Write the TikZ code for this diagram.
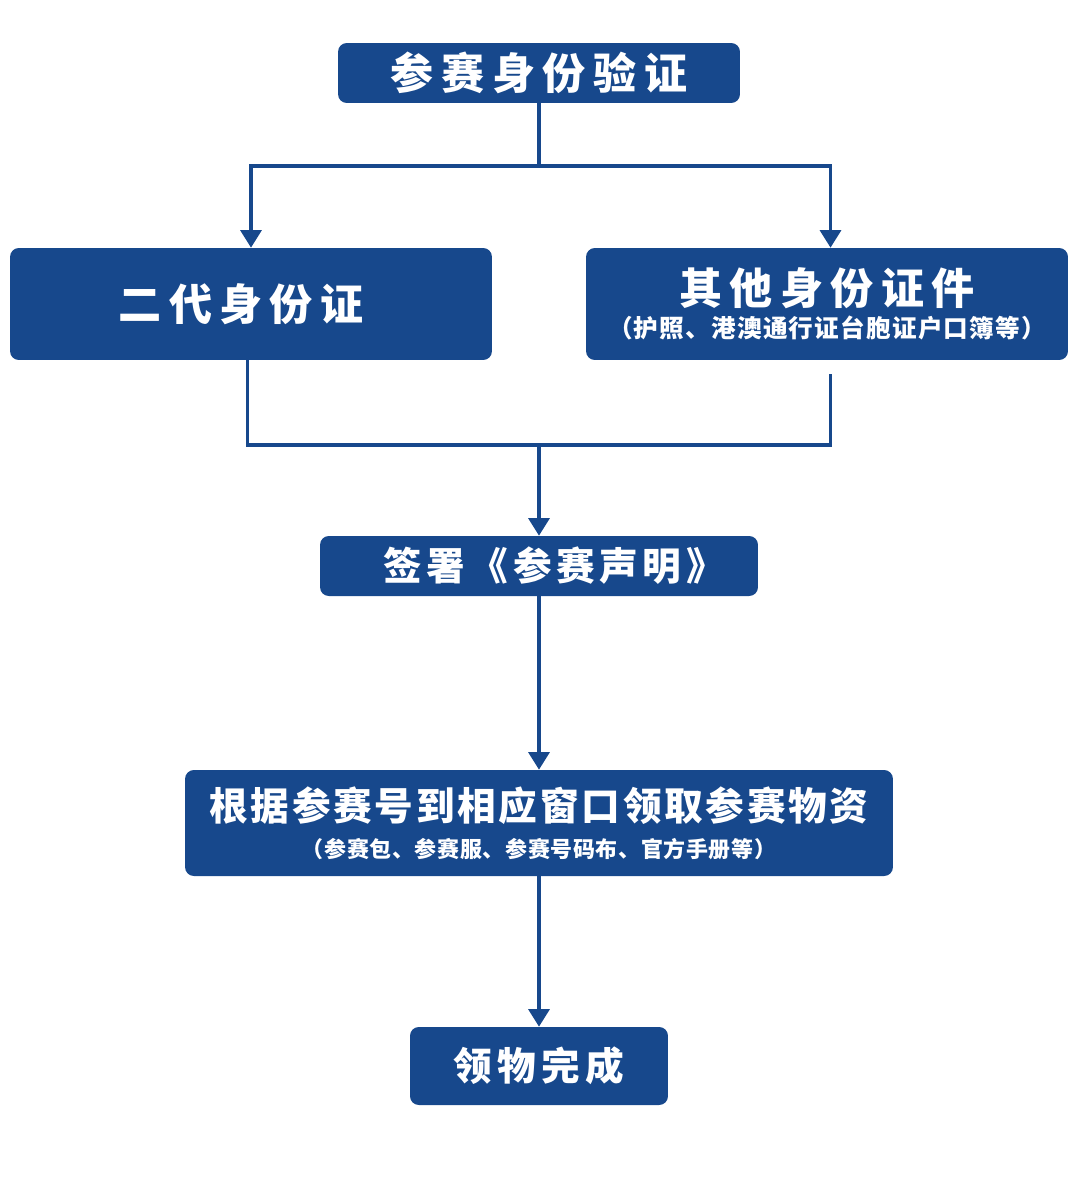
\documentclass[tikz,border=0pt]{standalone}
\usepackage{fontspec}
\newfontfamily\cjk{Noto Sans CJK SC}
\newcommand{\notefont}[2]{\cjk\bfseries\fontsize{#1}{14pt}\selectfont\addfontfeature{LetterSpace=#2}}
\usepackage{xcolor}
\definecolor{racenavy}{RGB}{23,72,140}
\usepackage{tikz}
\usetikzlibrary{arrows.meta, positioning}

\begin{document}
\begin{tikzpicture}[
  x=0.02cm, y=-0.02cm,
  flownode/.style={rectangle, rounded corners=5pt, fill=racenavy, draw=none,
               align=center, text=white, inner sep=0pt,
               font=\cjk\bfseries\fontsize{22pt}{26pt}\selectfont\addfontfeature{LetterSpace=7}},
  bignode/.style={flownode, font=\cjk\bfseries\fontsize{24.5pt}{27pt}\selectfont\addfontfeature{LetterSpace=17}},
  line/.style={line width=1.8pt, color=racenavy},
  arr/.style={line, -{Triangle[length=10pt, width=12pt]}}
]
\useasboundingbox (0,0) rectangle (1080,1180);

\node[flownode, minimum width=8.04cm, minimum height=1.2cm, font=\cjk\bfseries\fontsize{24.5pt}{26pt}\selectfont\addfontfeature{LetterSpace=18}]
  (verify) at (539,73) {参赛身份验证};
\node[bignode, minimum width=9.64cm, minimum height=2.24cm] (idcard) at (251,304) {二代身份证\hspace{0.4cm}};
\node[bignode, minimum width=9.64cm, minimum height=2.24cm] (otherid) at (827,304)
  {其他身份证件\\[-8pt]{\notefont{14pt}{5}（护照、港澳通行证台胞证户口簿等）}};
\node[flownode, minimum width=8.76cm, minimum height=1.2cm, font=\cjk\bfseries\fontsize{22pt}{26pt}\selectfont\addfontfeature{LetterSpace=12}]
  (sign) at (539,566) {\hspace{0.6cm}签署《参赛声明》};
\node[flownode, minimum width=14.16cm, minimum height=2.12cm] (pickup) at (539,823)
  {根据参赛号到相应窗口领取参赛物资\\[-5pt]{\notefont{12.5pt}{3}（参赛包、参赛服、参赛号码布、官方手册等）}};
\node[flownode, minimum width=5.16cm, minimum height=1.56cm, font=\cjk\bfseries\fontsize{22pt}{26pt}\selectfont\addfontfeature{LetterSpace=14}]
  (done) at (539,1066) {领物完成};

% branches
\coordinate (split) at (539,166);
\coordinate (merge) at (539,445);
\draw[line] (verify.south) -- (split);
\draw[arr] (split) -| (idcard.north);
\draw[arr] (split) -| ([xshift=2pt]otherid.north);
\draw[line] ([xshift=-2pt]idcard.south) |- (merge);
\draw[line] ([xshift=2pt, yshift=-8pt]otherid.south) |- (merge);
\draw[arr] (merge) -- (sign.north);
\draw[arr] (sign.south) -- (pickup.north);
\draw[arr] (pickup.south) -- (done.north);
\end{tikzpicture}
\end{document}
